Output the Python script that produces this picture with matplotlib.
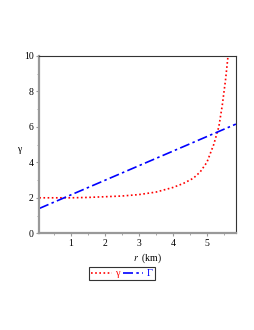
import matplotlib
matplotlib.use('Agg')
import matplotlib.pyplot as plt
from matplotlib.ticker import MultipleLocator

plt.rcParams['font.family'] = ['Liberation Serif', 'DejaVu Serif']
plt.rcParams['font.size'] = 7
plt.rcParams['mathtext.fontset'] = 'stix'

# gamma (red dotted)
r_gamma = [0.08, 0.5, 1.0, 1.5, 2.0, 2.5, 3.0, 3.5, 4.0, 4.3, 4.6, 4.8, 5.0, 5.2, 5.35, 5.45, 5.55, 5.62]
gamma = [2.0, 2.0, 2.0, 2.02, 2.06, 2.1, 2.18, 2.32, 2.58, 2.8, 3.1, 3.45, 4.0, 5.0, 6.0, 7.2, 8.7, 10.0]
# Gamma (blue dash-dot)
r_Gamma = [0.08, 5.85]
Gamma = [1.4, 6.15]

fig = plt.figure(figsize=(2.55, 3.3), dpi=100)
ax = fig.add_axes([0.154, 0.293, 0.771, 0.538])

ax.plot(r_gamma, gamma, color='red', linestyle=(0, (1, 1.5)), lw=1.2, label='γ')
ax.plot(r_Gamma, Gamma, color='blue', linestyle=(0, (6, 2, 1.5, 2)), lw=1.2, label='Γ')

ax.set_xlim(0.08, 5.85)
ax.set_ylim(0, 10)
ax.set_xticks([1, 2, 3, 4, 5])
ax.set_yticks([0, 2, 4, 6, 8, 10])
ax.xaxis.set_minor_locator(MultipleLocator(0.5))
ax.yaxis.set_minor_locator(MultipleLocator(1))
ax.tick_params(which='major', length=2, color='#999999', width=0.8, pad=2)
ax.tick_params(which='minor', length=1.5, color='#999999', width=0.6)

for s in ['left', 'bottom']:
    ax.spines[s].set_color('#999999')
    ax.spines[s].set_linewidth(1.6)
for s in ['top', 'right']:
    ax.spines[s].set_color('#333333')
    ax.spines[s].set_linewidth(0.8)

ax.set_xlabel(r'$r$  (km)')
ax.xaxis.set_label_coords(0.55, -0.1)
ax.set_ylabel('γ', rotation=0, va='center')
ax.yaxis.set_label_coords(-0.1, 0.47)

leg = ax.legend(loc='upper center', bbox_to_anchor=(0.42, -0.16), ncol=2,
                frameon=True, fancybox=False, handlelength=2.0, columnspacing=0.3,
                handletextpad=0.3, borderpad=0.2, labelcolor='linecolor', fontsize=7.5)
leg.get_frame().set_edgecolor('black')
leg.get_frame().set_linewidth(0.8)

plt.savefig('out.png', dpi=100)
